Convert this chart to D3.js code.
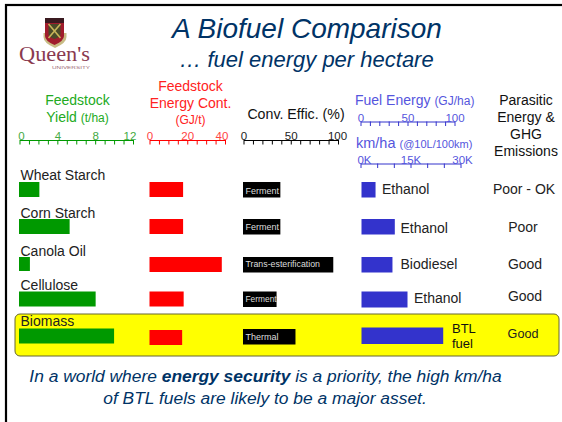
<!DOCTYPE html>
<html><head><meta charset="utf-8">
<script src="https://cdn.jsdelivr.net/npm/d3@7"></script>
<style>html,body{margin:0;padding:0;background:#fff}svg{display:block}text{font-family:"Liberation Sans",Arial,sans-serif}</style>
</head><body><svg id="c" width="562" height="422"></svg>
<script>
const feedstocks=["Wheat Starch","Corn Starch","Canola Oil","Cellulose","Biomass"];
const yieldTHa=[2.1,5.3,1.1,8.05,10];
const energyGJt=[17.8,17.8,38.3,18.1,17.3];
const convEffic=[39,39,95,35,55];
const convLabels=["Ferment","Ferment","Trans-esterification","Ferment","Thermal"];
const fuelGJha=[16,36.5,34,50,88];
const fuelLabels=["Ethanol","Ethanol","Biodiesel","Ethanol","BTL\nfuel"];
const emissions=["Poor - OK","Poor","Good","Good","Good"];
const rowTops=[182,219,257,291.5,328.5];
const GREEN="#009900",RED="#ff0000",BLUE="#3333cc",NAVY="#003366";

const svg=d3.select("#c");
svg.append("rect").attr("x",6).attr("y",5).attr("width",570).attr("height",430).attr("fill","#fff").attr("stroke","#000").attr("stroke-width",2.2);

function txt(x,y,s,o={}){
  return svg.append("text").attr("x",x).attr("y",y).attr("text-anchor",o.a||"middle")
   .attr("font-size",o.s||14).attr("fill",o.c||"#111").attr("font-style",o.i?"italic":null).text(s);
}
// logo
const logo=svg.append("g");
logo.append("path").attr("d","M43.500 33h23v4q0 6-11.500 11q-11.500-5-11.500-11z").attr("fill","#c8bb84");
logo.append("path").attr("d","M45 18h19v18q0 5-9.500 9q-9.500-4-9.500-9z").attr("fill","#a01c2c");
logo.append("rect").attr("x",45).attr("y",18).attr("width",19).attr("height",5).attr("fill","#3a1a20");
logo.append("path").attr("d","M48.500 24h12v10q0 3-6 5q-6-2-6-5z").attr("fill","#4a4a28");
logo.append("path").attr("d","M48.500 24l12 14M60.500 24l-12 14").attr("stroke","#c9b65a").attr("stroke-width",1.600);
svg.append("text").attr("x",19).attr("y",61).attr("font-size",21).attr("fill","#8a3a50").attr("textLength",71).attr("lengthAdjust","spacingAndGlyphs")
 .style("font-family","'Liberation Serif',serif").text("Queen's");
svg.append("text").attr("x",52).attr("y",68.500).attr("font-size",3.500).attr("fill","#a06a78").attr("textLength",38).attr("lengthAdjust","spacingAndGlyphs").text("UNIVERSITY");

txt(307,38,"A Biofuel Comparison",{s:28,i:1,c:NAVY});
txt(306.500,67,"… fuel energy per hectare",{s:22,i:1,c:NAVY});

// headers
const G="#22aa22",R="#ff2222",B="#5555dd";
txt(77.500,105,"Feedstock",{c:G});
const t1=txt(77.500,122,"Yield ",{c:G}); t1.append("tspan").attr("font-size",12).text("(t/ha)");
txt(190.500,91,"Feedstock",{c:R}); txt(190.500,108,"Energy Cont.",{c:R}); txt(190.500,124,"(GJ/t)",{c:R,s:12});
txt(296,119,"Conv. Effic. (%)",{s:14.200});
const t2=txt(355,105,"Fuel Energy ",{a:"start",c:B}); t2.append("tspan").attr("font-size",12).text("(GJ/ha)");
const t3=txt(356,148,"km/ha ",{a:"start",c:B,s:14.500}); t3.append("tspan").attr("font-size",11).text("(@10L/100km)");
["Parasitic","Energy &","GHG","Emissions"].forEach((s,i)=>txt(526,105+i*17,s,{s:14}));

// axes
function axis(x0,x1,y,dom,majors,minors,col,lab,fmt,dxFirst=0,dxLast=0){
  const sc=d3.scaleLinear().domain(dom).range([x0,x1]);
  const g=svg.append("g").attr("transform",`translate(0,${y})`);
  g.call(d3.axisBottom(sc).tickValues(minors).tickSize(4.5).tickFormat("").tickSizeOuter(0));
  g.selectAll("path,line").attr("stroke",col).attr("stroke-width",1);
  const l=g.append("g").call(d3.axisTop(sc).tickValues(majors).tickSize(0).tickPadding(0).tickFormat(fmt||(d=>d)));
  l.select("path").remove();
  l.selectAll("text").attr("fill",lab).attr("font-size",11.500)
    .attr("dx",(d,i,a)=>i==0?dxFirst:i==a.length-1?dxLast:0)
    .style("font-family","'Liberation Sans',Arial,sans-serif");
  return sc;
}
const xY=axis(19.500,133,140,[0,12],[0,4,8,12],d3.range(0,13),GREEN,"#44aa44",null,1.500,-3.500);
const xE=axis(149.500,225,140,[0,40],[0,20,40],d3.range(0,41,5),RED,"#ff4444",null,0,-3.500);
const xC=axis(243.500,338,140,[0,100],[0,50,100],d3.range(0,101,10),"#000","#222",null,0,-1);
const xF=axis(360.500,454.500,121.500,[0,100],[0,50,100],d3.range(0,101,10),BLUE,"#5555dd",null,0,0);
axis(360.500,460.500,163.500,[0,30000],[0,15000,30000],d3.range(0,30001,5000),BLUE,"#5555dd",d=>d/1000+"K",3.500,1.500);

// highlight
svg.append("rect").attr("x",15).attr("y",314).attr("width",544).attr("height",42).attr("rx",5)
 .attr("fill","#ffff00").attr("stroke","#666633").attr("stroke-width",1);

// rows
const h=15;
const labelY=[180,218,255.500,290,326];
const redOff=[0,0,0,0,1.500], blackOff=[0,0,0,0,.500], labOff=[11.500,10.500,9.500,10.500,11.500], labSize=[9,9,8.800,8.400,9];
feedstocks.forEach((f,i)=>{
  const y=rowTops[i];
  txt(20.500,labelY[i],f,{a:"start",s:14,c:"#222"});
  svg.append("rect").attr("x",xY(0)-.5).attr("y",y).attr("width",xY(yieldTHa[i])-xY(0)+.5).attr("height",i==2?14:h).attr("fill",GREEN);
  svg.append("rect").attr("x",xE(0)).attr("y",y+redOff[i]).attr("width",xE(energyGJt[i])-xE(0)).attr("height",h).attr("fill",RED);
  svg.append("rect").attr("x",xC(0)-.5).attr("y",y+blackOff[i]).attr("width",xC(convEffic[i])-xC(0)+.5).attr("height",h+.5).attr("fill","#000");
  svg.append("text").attr("x",xC(0)+2).attr("y",y+labOff[i]).attr("font-size",labSize[i]).attr("fill","#ddd").text(convLabels[i]);
  svg.append("rect").attr("x",xF(0)+1).attr("y",i==4?y-1:y).attr("width",xF(fuelGJha[i])-xF(0)-1).attr("height",i==3?16:i==4?16.500:h+.5).attr("fill",BLUE);
});
const fuelX=[382,400.500,400.500,414];
const fuelY=[194,232.500,269,303];
fuelX.forEach((x,i)=>txt(x,fuelY[i],fuelLabels[i],{a:"start",s:14,c:"#222"}));
fuelLabels[4].split("\n").forEach((s,i)=>txt(452,333+i*15,s,{a:"start",s:13,c:"#111"}));
const emX=[524,523,525,525,523],emY=[194,232,269,301,338],emS=[14,14,14,14,12.600];
emissions.forEach((e,i)=>txt(emX[i],emY[i],e,{s:emS[i],c:"#222"}));

// footer
const n=svg.append("text").attr("x",265.500).attr("y",382).attr("text-anchor","middle").attr("font-size",17.400).attr("font-style","italic").attr("fill",NAVY);
n.append("tspan").text("In a world where ");
n.append("tspan").attr("font-weight","bold").text("energy security");
n.append("tspan").text(" is a priority, the high km/ha");
txt(265,403.500,"of BTL fuels are likely to be a major asset.",{s:17.400,i:1,c:NAVY});
</script></body></html>
